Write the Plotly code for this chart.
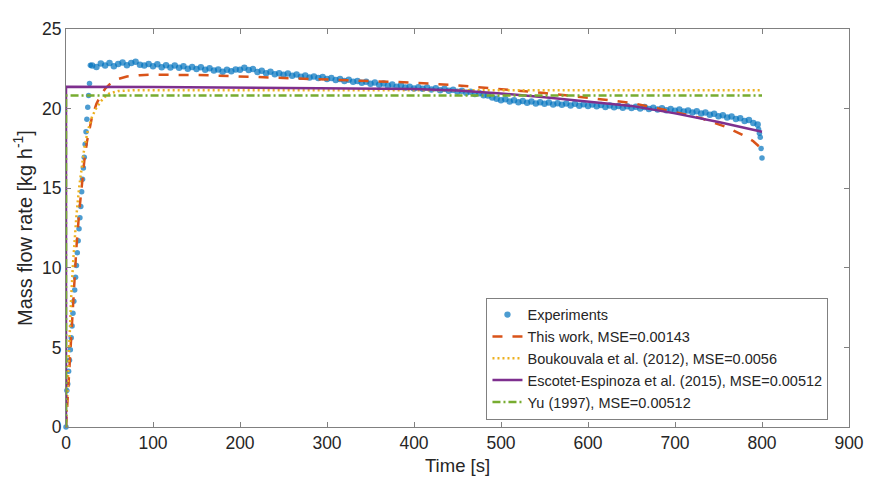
import plotly.graph_objects as go

# ---------------- data ----------------
exp_t_rise = list(range(0, 29))
exp_v_rise = [0.0, 2.3, 2.7, 3.5, 4.2, 4.85, 5.6, 6.35, 7.15, 7.9, 8.6, 9.4, 10.15,
              10.95, 11.7, 12.45, 13.15, 13.85, 14.78, 15.56, 16.27, 16.94, 17.76,
              18.55, 19.33, 20.08, 20.82, 21.57, 22.72]

exp_t_main = list(range(30, 800, 5))
exp_v_main = [
    22.70, 22.62, 22.84, 22.70, 22.86, 22.66, 22.80, 22.90, 22.72, 22.86, 22.94, 22.76, 22.70, 22.80,
    22.66, 22.78, 22.60, 22.72, 22.58, 22.70, 22.56, 22.66, 22.50, 22.62, 22.48, 22.60, 22.44, 22.54, 22.40, 22.46, 22.32, 22.44, 22.34, 22.46,
    22.44, 22.56, 22.42, 22.48, 22.30, 22.38, 22.22, 22.32, 22.16, 22.22, 22.12, 22.20, 22.06, 22.14, 22.00, 22.08, 21.96, 22.02, 21.92, 21.98,
    21.86, 21.92, 21.80, 21.86, 21.74, 21.82, 21.68, 21.74, 21.62, 21.68, 21.56, 21.64, 21.50, 21.58, 21.44, 21.52, 21.38, 21.46, 21.32, 21.38,
    21.26, 21.34, 21.24, 21.32, 21.20, 21.28, 21.16, 21.24, 21.12, 21.18, 21.06, 21.12, 21.00, 21.06, 20.92, 20.96, 20.84, 20.82, 20.70, 20.62,
    20.52, 20.58, 20.44, 20.52, 20.40, 20.48, 20.36, 20.44, 20.32, 20.40, 20.30, 20.38, 20.26, 20.34, 20.24, 20.32, 20.20, 20.30, 20.18, 20.28,
    20.16, 20.26, 20.14, 20.22, 20.10, 20.20, 20.08, 20.16, 20.06, 20.14, 20.04, 20.12, 20.00, 20.10, 19.98, 20.06, 19.94, 20.02, 19.90, 19.98,
    19.86, 19.94, 19.82, 19.88, 19.76, 19.84, 19.70, 19.76, 19.62, 19.68, 19.52, 19.58, 19.44, 19.50, 19.34, 19.40, 19.22, 19.28, 19.10, 19.00,
]

exp_t_end = [796, 797, 798, 799, 800]
exp_v_end = [18.70, 18.45, 18.20, 17.50, 16.90]

this_t = [0, 3, 6, 9, 12, 15, 18, 21, 24, 27, 30, 35, 40, 45, 50, 55, 60, 70, 85, 100,
          125, 150, 175, 200, 250, 300, 350, 400, 450, 500, 550, 600, 650, 700, 730,
          760, 780, 790, 800]
this_v = [0, 3.0, 6.0, 8.9, 11.3, 13.4, 15.2, 16.7, 17.9, 18.8, 19.5, 20.3, 20.85, 21.25,
          21.52, 21.72, 21.86, 22.02, 22.10, 22.13, 22.13, 22.11, 22.07, 22.02, 21.93,
          21.84, 21.74, 21.63, 21.46, 21.24, 20.98, 20.68, 20.36, 19.78, 19.40, 18.82,
          18.28, 17.95, 17.45]

bouk_t = [0, 2, 4, 6, 8, 10, 12, 15, 18, 21, 25, 30, 35, 40, 45, 50, 60, 70, 80, 800]
bouk_v = [0, 3.0, 5.8, 8.2, 10.2, 11.9, 13.3, 15.0, 16.4, 17.5, 18.6, 19.5, 20.05, 20.45,
          20.75, 20.95, 21.10, 21.15, 21.16, 21.16]

esco_t = [0, 0, 100, 200, 300, 400, 450, 500, 550, 600, 650, 700, 750, 800]
esco_v = [0, 21.37, 21.36, 21.32, 21.28, 21.23, 21.13, 20.95, 20.72, 20.46, 20.17, 19.70,
          19.16, 18.55]

yu_t = [0, 0, 800]
yu_v = [0, 20.82, 20.82]

names = ["Experiments", "This work, MSE=0.00143", "Boukouvala et al. (2012), MSE=0.0056",
         "Escotet-Espinoza et al. (2015), MSE=0.00512", "Yu (1997), MSE=0.00512"]

x_title = "Time [s]"
y_title = "Mass flow rate [kg h<sup>-1</sup>]"

x_ticks = [0, 100, 200, 300, 400, 500, 600, 700, 800, 900]
y_ticks = [0, 5, 10, 15, 20, 25]

# ---------------- figure ----------------
FONT = "Arial, Liberation Sans, Helvetica, sans-serif"
TXT = "#262626"

exp_t = exp_t_rise + exp_t_main + exp_t_end
exp_v = exp_v_rise + exp_v_main + exp_v_end
# isolated dots (rise / final drop) are drawn a bit smaller than the dense band
exp_sizes = [5.5] * len(exp_t_rise) + [6.5] * len(exp_t_main) + [5.5] * len(exp_t_end)

fig = go.Figure()

fig.add_trace(go.Scatter(
    x=exp_t, y=exp_v,
    mode="markers", name=names[0],
    marker=dict(color="#0072BD", size=exp_sizes, line=dict(width=0)),
    cliponaxis=False,
))
fig.add_trace(go.Scatter(
    x=this_t, y=this_v, mode="lines", name=names[1],
    line=dict(color="#D95319", width=2.5, dash="10px,10px"),
))
fig.add_trace(go.Scatter(
    x=bouk_t, y=bouk_v, mode="lines", name=names[2],
    line=dict(color="#EDB120", width=2.5, dash="2px,3px"),
))
fig.add_trace(go.Scatter(
    x=esco_t, y=esco_v, mode="lines", name=names[3],
    line=dict(color="#7E2F8E", width=2.5),
))
fig.add_trace(go.Scatter(
    x=yu_t, y=yu_v, mode="lines", name=names[4],
    line=dict(color="#77AC30", width=2.5, dash="8px,3px,2px,3px"),
))

axis_common = dict(
    showgrid=False, zeroline=False, showline=True, linecolor="#808080", linewidth=1,
    mirror="ticks", ticks="inside", ticklen=5, tickcolor="#808080",
    tickfont=dict(family=FONT, size=17.5, color=TXT),
)

fig.update_xaxes(range=[0, 900], tickvals=x_ticks, **axis_common)
fig.update_yaxes(range=[0, 25], tickvals=y_ticks,
                 title=dict(text=y_title, font=dict(family=FONT, size=20, color=TXT), standoff=4),
                 **axis_common)

# x-axis title as a paper-anchored text so it sits where the reference has it
fig.add_annotation(
    text=x_title, xref="paper", yref="paper", x=0.5, y=0,
    xanchor="center", yanchor="middle", yshift=-38, showarrow=False,
    font=dict(family=FONT, size=18.5, color=TXT),
)

# the page body has an 8px default margin, so the figure is sized/margined to compensate
fig.update_layout(
    width=867, height=470,
    margin=dict(l=58, r=16, t=11, b=51, pad=0),
    paper_bgcolor="white", plot_bgcolor="white",
    font=dict(family=FONT, color=TXT),
    legend=dict(
        x=0.537, y=0.325, xanchor="left", yanchor="top",
        bgcolor="white", bordercolor="#808080", borderwidth=1,
        font=dict(family=FONT, size=14.5, color=TXT),
        tracegroupgap=0, itemwidth=30,
    ),
    showlegend=True,
)

fig.write_html("out.html")
